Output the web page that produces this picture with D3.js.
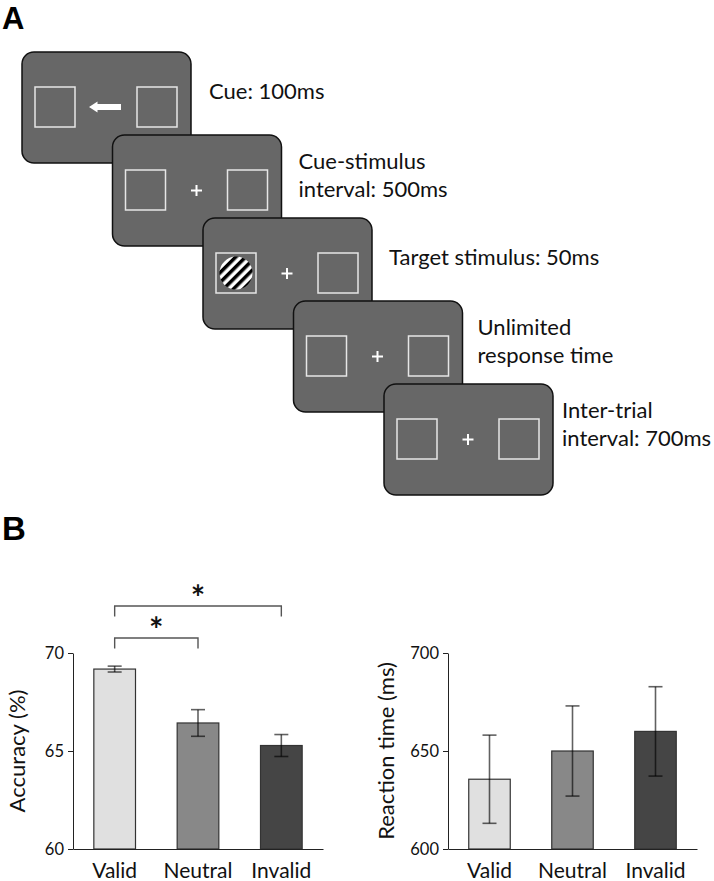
<!DOCTYPE html>
<html><head><meta charset="utf-8">
<script src="https://cdn.jsdelivr.net/npm/d3@7"></script>
<style>body{margin:0;background:#fff} svg{display:block}</style>
</head><body>
<script>
// ---------- data ----------
const conditions = ["Valid", "Neutral", "Invalid"];
const accuracy = [69.18, 66.43, 65.28];
const accuracyErr = [0.15, 0.68, 0.56];
const reactionTime = [635.6, 650.0, 660.0];
const reactionTimeErr = [22.5, 23.0, 22.8];
const accuracyTicks = [60, 65, 70];
const rtTicks = [600, 650, 700];
const barFills = ["#e0e0e0", "#888888", "#454545"];
const sigPairs = [["Valid", "Neutral"], ["Valid", "Invalid"]];
const sigLabels = ["*", "*"];
const stepLabels = [
  ["Cue: 100ms"],
  ["Cue-stimulus", "interval: 500ms"],
  ["Target stimulus: 50ms"],
  ["Unlimited", "response time"],
  ["Inter-trial", "interval: 700ms"]
];
const stepCentre = ["arrow", "cross", "cross", "cross", "cross"];
const stepGrating = [false, false, true, false, false];

// ---------- layout ----------
const W = 714, H = 881;
const FONT = "Lato, 'Open Sans', sans-serif";
const labelGap = [18, 17, 17, 15, 9];
const svg = d3.select("body").append("svg").attr("width", W).attr("height", H);

svg.append("text").attr("x", 2).attr("y", 28.5).text("A")
  .attr("font-family", "'Liberation Sans', Arial, sans-serif").attr("font-weight", "bold").attr("font-size", 31);
svg.append("text").attr("x", 2).attr("y", 540).text("B")
  .attr("font-family", "'Liberation Sans', Arial, sans-serif").attr("font-weight", "bold").attr("font-size", 33);

// ---------- Panel A ----------
const SW = 169, SH = 111;
const idx = d3.range(stepLabels.length);
const sx = d3.scaleLinear().domain([0, idx.length - 1]).range([22, 384]);
const sy = d3.scaleLinear().domain([0, idx.length - 1]).range([52, 384]);

const defs = svg.append("defs");
const pat = defs.append("pattern").attr("id", "grating").attr("patternUnits", "userSpaceOnUse")
  .attr("width", 7).attr("height", 7).attr("patternTransform", "rotate(45)");
pat.append("rect").attr("width", 7).attr("height", 7).attr("fill", "#fff");
pat.append("rect").attr("width", 3.5).attr("height", 7).attr("fill", "#000");

const screens = svg.append("g").selectAll("g.screen").data(idx).join("g")
  .attr("class", "screen")
  .attr("transform", i => `translate(${sx(i)},${sy(i)})`);

screens.append("rect").attr("width", SW).attr("height", SH).attr("rx", 12)
  .attr("fill", "#676767").attr("stroke", "#111").attr("stroke-width", 1.5);

screens.each(function (i) {
  const g = d3.select(this);
  [13, 115].forEach(bx => g.append("rect").attr("x", bx).attr("y", 35).attr("width", 40).attr("height", 40)
    .attr("fill", "none").attr("stroke", "#e6e6e6").attr("stroke-width", 1.5));
  if (stepGrating[i]) {
    g.append("circle").attr("cx", 33).attr("cy", 55).attr("r", 16.5).attr("fill", "url(#grating)");
  }
  if (stepCentre[i] === "arrow") {
    g.append("path").attr("d", "M67,55 L75.5,49.5 L75.5,52 L99,52 L99,58 L75.5,58 L75.5,60.5 Z").attr("fill", "#fff");
  } else {
    g.append("path").attr("d", "M78.5,55.5 H89.5 M84,50 V61").attr("stroke", "#fff").attr("stroke-width", 2);
  }
});

screens.each(function (i) {
  const lines = stepLabels[i];
  const t = svg.append("text").attr("font-family", FONT).attr("font-size", 22).attr("fill", "#111");
  lines.forEach((l, k) => t.append("tspan")
    .attr("x", sx(i) + SW + labelGap[i])
    .attr("y", sy(i) + 47 - (lines.length - 1) * 13.5 + k * 28)
    .text(l));
});

// ---------- Panel B ----------
function barChart(cfg) {
  const g = svg.append("g");
  const x = d3.scaleBand().domain(conditions).range(cfg.xr).paddingInner(0.5).paddingOuter(0.25);
  const y = d3.scaleLinear().domain(cfg.domain).range([849, 653]);

  g.selectAll("rect.bar").data(conditions).join("rect").attr("class", "bar")
    .attr("x", d => x(d)).attr("width", x.bandwidth())
    .attr("y", (d, i) => y(cfg.values[i]))
    .attr("height", (d, i) => y(cfg.domain[0]) - y(cfg.values[i]))
    .attr("fill", (d, i) => barFills[i]).attr("stroke", "#333").attr("stroke-width", 1.2);

  const eb = g.selectAll("g.err").data(conditions).join("g").attr("class", "err")
    .attr("stroke", "#000").attr("stroke-opacity", 0.62).attr("stroke-width", 1.6);
  eb.append("line").attr("x1", d => x(d) + x.bandwidth() / 2).attr("x2", d => x(d) + x.bandwidth() / 2)
    .attr("y1", (d, i) => y(cfg.values[i] + cfg.errs[i])).attr("y2", (d, i) => y(cfg.values[i] - cfg.errs[i]));
  [1, -1].forEach(s => eb.append("line")
    .attr("x1", d => x(d) + x.bandwidth() / 2 - 7).attr("x2", d => x(d) + x.bandwidth() / 2 + 7)
    .attr("y1", (d, i) => y(cfg.values[i] + s * cfg.errs[i])).attr("y2", (d, i) => y(cfg.values[i] + s * cfg.errs[i])));

  const ya = g.append("g").attr("transform", `translate(${cfg.xr[0]},0)`)
    .call(d3.axisLeft(y).tickValues(cfg.ticks).tickSize(5).tickSizeOuter(0).tickPadding(4));
  ya.select(".domain").attr("stroke", "#222");
  ya.selectAll(".tick line").attr("stroke", "#222");
  ya.selectAll("text").attr("font-family", FONT).attr("font-size", 16.5).attr("fill", "#111");

  const xa = g.append("g").attr("transform", "translate(0,849)")
    .call(d3.axisBottom(x).tickSize(0).tickPadding(14));
  xa.select(".domain").attr("stroke", "#222");
  xa.selectAll("text").attr("font-family", FONT).attr("font-size", 21).attr("fill", "#111");

  g.append("text").attr("transform", `translate(${cfg.labelX},751) rotate(-90)`)
    .attr("text-anchor", "middle").attr("font-family", FONT).attr("font-size", 22).attr("fill", "#111")
    .text(cfg.label);

  if (cfg.sig) {
    cfg.sig.forEach((p, k) => {
      const xa0 = x(p[0]) + x.bandwidth() / 2, xb = x(p[1]) + x.bandwidth() / 2;
      const yl = 638 - k * 32;
      g.append("path").attr("d", `M${xa0},${yl + 10.5} V${yl} H${xb} V${yl + 10.5}`)
        .attr("fill", "none").attr("stroke", "#555").attr("stroke-width", 1.4);
      g.append("text").attr("x", (xa0 + xb) / 2).attr("y", yl + 4).attr("text-anchor", "middle")
        .attr("font-family", FONT).attr("font-weight", "bold").attr("font-size", 34).attr("fill", "#111")
        .text(sigLabels[k]);
    });
  }
}

barChart({ xr: [73, 323], domain: [60, 70], values: accuracy, errs: accuracyErr, ticks: accuracyTicks,
  label: "Accuracy (%)", labelX: 25, sig: sigPairs });
barChart({ xr: [448, 697], domain: [600, 700], values: reactionTime, errs: reactionTimeErr, ticks: rtTicks,
  label: "Reaction time (ms)", labelX: 394 });
</script>
</body></html>
